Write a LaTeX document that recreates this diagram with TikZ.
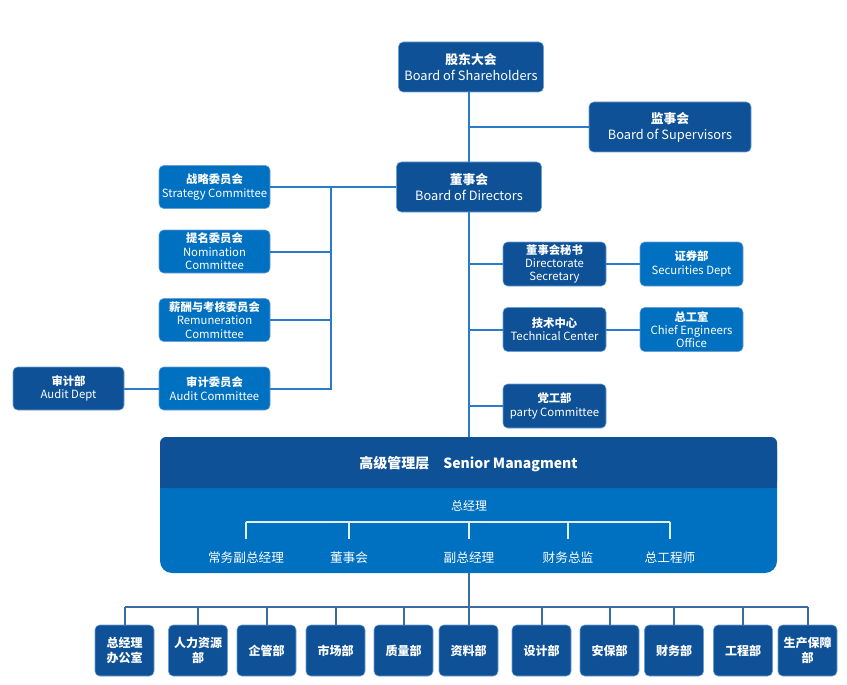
\documentclass[tikz,border=0pt]{standalone}
\usepackage{fontspec}
\setmainfont{Noto Sans CJK SC}
\definecolor{darkblue}{HTML}{0E5196}
\definecolor{lightblue}{HTML}{0070C0}
\definecolor{linkblue}{HTML}{2A7BC9}
\definecolor{busblue}{HTML}{3A6BA3}
\definecolor{rimblue}{HTML}{6A9FD6}
\begin{document}
\begin{tikzpicture}[x=0.75pt,y=-0.75pt,
    box/.style={rounded corners=3.5pt,draw=rimblue,line width=0.4pt,text=white,align=center,inner sep=0pt},
    dbox/.style={box,fill=darkblue},
    lbox/.style={box,fill=lightblue},
    topbox/.style={minimum height=37.5pt,font=\fontsize{9.6}{12}\selectfont},
    combox/.style={minimum width=83.25pt,minimum height=32.25pt,font=\fontsize{8.5}{10}\selectfont},
    sidebox/.style={minimum width=77.25pt,minimum height=33pt,font=\fontsize{8.5}{10}\selectfont},
    deptbox/.style={dbox,minimum width=44.25pt,minimum height=38.25pt,font=\fontsize{9}{11}\selectfont\bfseries},
    link/.style={linkblue,line width=1.5pt},
    bus/.style={busblue,line width=1.5pt},
    tick/.style={white!88!lightblue,line width=1.5pt}]
  \useasboundingbox (0,0) rectangle (847,685);

  % top of the chart
  \node[dbox,topbox,minimum width=108.75pt] (sh) at (471,67) {\textbf{股东大会}\\Board of Shareholders};
  \node[dbox,topbox,minimum width=121.5pt] (sup) at (670,127) {\textbf{监事会}\\Board of Supervisors};
  \node[dbox,topbox,minimum width=108.75pt] (dir) at (469,187) {\textbf{董事会}\\Board of Directors};

  % committees under the board
  \node[lbox,combox] (strat) at (214.5,187) {\textbf{战略委员会}\\Strategy Committee};
  \node[lbox,combox] (nom) at (214.5,251.5) {\textbf{提名委员会}\\Nomination\\Committee};
  \node[lbox,combox] (rem) at (214.5,320) {\textbf{薪酬与考核委员会}\\Remuneration\\Committee};
  \node[lbox,combox] (audc) at (214.5,388.5) {\textbf{审计委员会}\\Audit Committee};
  \node[dbox,combox] (audd) at (68.5,388.5) {\textbf{审计部}\\Audit Dept};

  % offices on the right
  \node[dbox,sidebox] (sec) at (554.5,264) {\textbf{董事会秘书}\\Directorate\\Secretary};
  \node[lbox,sidebox] (secd) at (691.5,264) {\textbf{证券部}\\Securities Dept};
  \node[dbox,sidebox] (tech) at (554.5,329.5) {\textbf{技术中心}\\Technical Center};
  \node[lbox,sidebox] (chief) at (691.5,329.5) {\textbf{总工室}\\Chief Engineers\\Office};
  \node[dbox,sidebox] (party) at (554.5,406) {\textbf{党工部}\\party Committee};

  % senior management
  \node[fill=lightblue,rounded corners=9pt,minimum width=462.75pt,minimum height=102pt] (sm) at (468.5,505) {};
  \node[fill=darkblue,rounded corners=4.5pt,minimum width=462.75pt,minimum height=38.25pt] (hdr) at (468.5,462.5) {};
  \fill[darkblue] ([yshift=6pt]hdr.south west) rectangle (hdr.south east);
  \node[text=white,font=\fontsize{10.5}{12}\selectfont\bfseries] at (468.5,464) {高级管理层\quad Senior Managment};
  \node[text=white,font=\fontsize{9}{11}\selectfont] (gm) at (469,506) {总经理};
  \node[text=white,font=\fontsize{9.5}{11}\selectfont] (s1) at (246,558) {常务副总经理};
  \node[text=white,font=\fontsize{9.5}{11}\selectfont] (s2) at (349,558) {董事会};
  \node[text=white,font=\fontsize{9.5}{11}\selectfont] (s3) at (469,558) {副总经理};
  \node[text=white,font=\fontsize{9.5}{11}\selectfont] (s4) at (568,558) {财务总监};
  \node[text=white,font=\fontsize{9.5}{11}\selectfont] (s5) at (670,558) {总工程师};
  \coordinate (br) at (0,522);
  \draw[tick] (s1 |- br) -- (s5 |- br);
  \foreach \s in {s1,s2,s3,s4,s5}
    \draw[tick] (\s |- br) -- ++(0,17);

  % departments
  \node[deptbox] (b1) at (124.5,650.5) {总经理\\办公室};
  \node[deptbox] (b2) at (198,650.5) {人力资源\\部};
  \node[deptbox] (b3) at (266.5,650.5) {企管部};
  \node[deptbox] (b4) at (335.5,650.5) {市场部};
  \node[deptbox] (b5) at (403.5,650.5) {质量部};
  \node[deptbox] (b6) at (468.5,650.5) {资料部};
  \node[deptbox] (b7) at (541.5,650.5) {设计部};
  \node[deptbox] (b8) at (609.5,650.5) {安保部};
  \node[deptbox] (b9) at (674,650.5) {财务部};
  \node[deptbox] (b10) at (743,650.5) {工程部};
  \node[deptbox] (b11) at (807.5,650.5) {生产保障\\部};

  % connectors
  \draw[link] (dir.north) -- (dir.north |- sh.south);
  \draw[link] (sup.west) -- (sup.west -| dir);
  \coordinate (cb) at (331,187);
  \draw[link] (dir.west) -- (cb) -- (cb |- audc.east) -- (audc.east);
  \draw[link] (strat.east) -- (strat.east -| cb);
  \draw[link] (nom.east) -- (nom.east -| cb);
  \draw[link] (rem.east) -- (rem.east -| cb);
  \draw[link] (audd.east) -- (audc.west);
  \draw[link] (dir.south) -- (dir.south |- hdr.north);
  \draw[link] (sec.west) -- (sec.west -| dir);
  \draw[link] (tech.west) -- (tech.west -| dir);
  \draw[link] (party.west) -- (party.west -| dir);
  \draw[link] (sec.east) -- (secd.west);
  \draw[link] (tech.east) -- (chief.west);

  \coordinate (bb) at (469,607);
  \draw[bus] (sm.south) -- (sm.south |- bb);
  \draw[bus] (b1.north |- bb) -- (b11.north |- bb);
  \foreach \b in {b1,b2,b3,b4,b5,b6,b7,b8,b9,b10,b11}
    \draw[bus] (\b.north) -- (\b.north |- bb);
\end{tikzpicture}
\end{document}
